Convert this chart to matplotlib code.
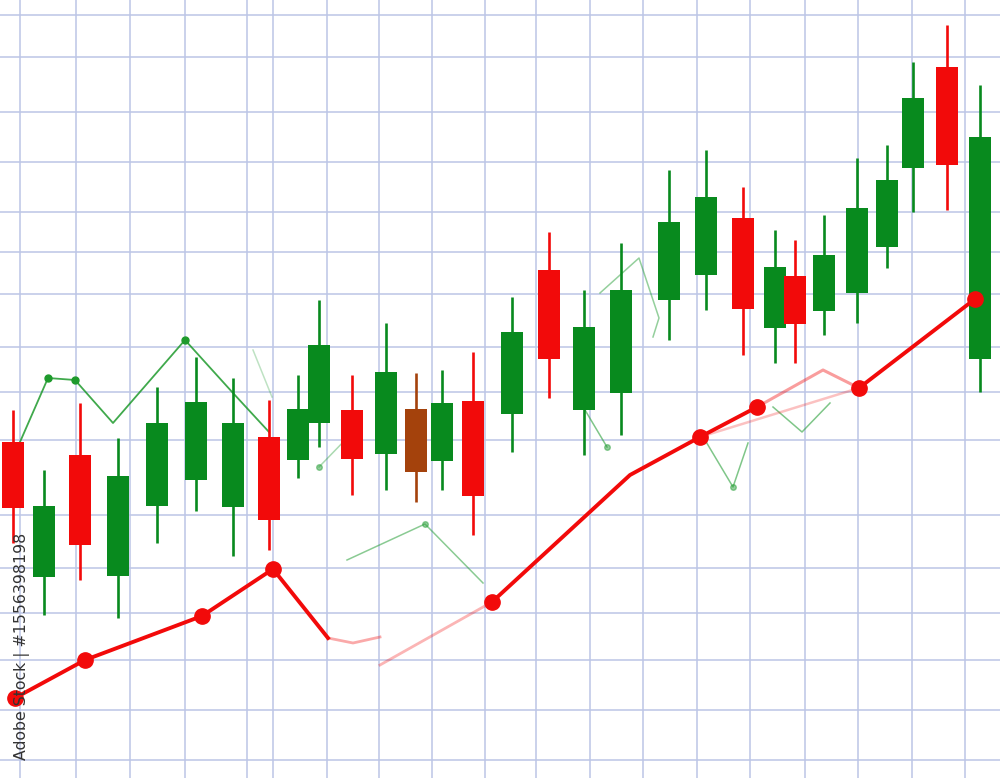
import matplotlib
matplotlib.use("Agg")
from matplotlib import pyplot as plt

# candle data (time, open, high, low, close)
times = [1.3, 4.4, 8.0, 11.8, 15.7, 19.6, 23.3, 26.9, 29.8, 31.9,
         35.2, 38.6, 41.6, 44.2, 47.3, 51.2, 54.9, 58.4, 62.1, 66.9,
         70.6, 74.3, 77.5, 79.5, 82.4, 85.7, 88.7, 91.3, 94.7, 98.0]
opens = [33.6, 20.1, 32.3, 20.2, 27.2, 29.8, 27.1, 34.1, 31.8, 35.5,
         36.8, 32.4, 36.9, 31.7, 37.7, 36.4, 50.8, 36.8, 38.5, 47.8,
         50.3, 56.0, 45.0, 50.2, 46.7, 48.5, 53.1, 61.0, 71.1, 41.9]
highs = [36.8, 30.8, 37.5, 34.0, 39.1, 42.1, 40.0, 37.8, 40.3, 47.8,
         40.3, 45.5, 40.5, 40.8, 42.6, 48.1, 54.6, 48.8, 53.5, 60.8,
         62.8, 59.1, 54.8, 53.8, 56.3, 62.0, 63.3, 71.6, 75.3, 69.3]
lows = [23.5, 16.3, 19.8, 16.0, 23.5, 26.7, 22.2, 22.8, 30.0, 33.1,
        28.3, 28.8, 27.6, 28.8, 24.3, 32.6, 38.0, 32.3, 34.3, 43.8,
        46.8, 42.3, 41.5, 41.5, 44.3, 45.5, 51.0, 56.6, 56.8, 38.6]
closes = [27.0, 27.2, 23.3, 30.2, 35.5, 37.6, 35.5, 25.8, 36.9, 43.3,
          31.9, 40.6, 30.6, 37.5, 28.2, 44.6, 41.9, 45.1, 48.8, 55.6,
          58.1, 46.9, 51.1, 45.4, 52.3, 57.0, 59.8, 68.0, 61.3, 64.1]
odd_candle = 12  # the brownish one

# trend line (red)
trend_x = [1.5, 8.5, 20.2, 27.3, 32.8]
trend_y = [8.0, 11.8, 16.2, 20.9, 14.0]
trend_fade_x = [32.8, 35.3, 38.0]
trend_fade_y = [14.0, 13.5, 14.1]
trend_fade2_x = [38.0, 49.2]
trend_fade2_y = [11.3, 17.6]
trend2_x = [49.2, 63.0, 70.0, 75.7]
trend2_y = [17.6, 30.3, 34.1, 37.1]
trend_fade3_x = [75.7, 82.3, 85.9]
trend_fade3_y = [37.1, 40.8, 39.0]
trend_fade4_x = [70.0, 85.9]
trend_fade4_y = [34.1, 39.0]
trend3_x = [85.9, 97.5]
trend3_y = [39.0, 47.9]
dots_x = [1.5, 8.5, 20.2, 27.3, 49.2, 70.0, 75.7, 85.9, 97.5]
dots_y = [8.0, 11.8, 16.2, 20.9, 17.6, 34.1, 37.1, 39.0, 47.9]

# thin green line pieces
g1_x = [2.0, 4.8, 7.5, 11.3, 18.5, 23.3, 26.9]
g1_y = [33.6, 40.0, 39.8, 35.5, 43.8, 38.5, 34.6]
g1_dots_x = [4.8, 7.5, 18.5]
g1_dots_y = [40.0, 39.8, 43.8]
g_pieces = [
    ([25.3, 27.2], [42.8, 38.1], 0.3),
    ([31.9, 35.0], [31.1, 34.3], 0.4),
    ([34.7, 42.5, 48.3], [21.8, 25.4, 19.5], 0.55),
    ([58.5, 60.7], [36.8, 33.1], 0.6),
    ([60.0, 63.9, 65.9, 65.3], [48.5, 52.0, 46.0, 44.1], 0.5),
    ([70.2, 73.3, 74.8], [34.3, 29.1, 33.5], 0.6),
    ([77.3, 80.2, 83.0], [37.1, 34.6, 37.5], 0.6),
]
g_dots_x = [31.9, 42.5, 60.7, 73.3]
g_dots_y = [31.1, 25.4, 33.1, 29.1]

grid_x = [2.0, 7.6, 13.0, 18.5, 24.7, 27.3, 32.7, 37.9, 43.2, 48.5,
          53.6, 59.0, 64.3, 69.7, 75.0, 80.5, 85.8, 91.2, 96.5]
grid_y = [76.3, 72.1, 66.6, 61.6, 56.6, 52.6, 48.4, 43.1, 38.6, 33.8,
          26.3, 21.0, 16.5, 11.8, 6.8, 1.8]

green = "#088a1e"
red = "#f20a0a"
brown = "#a4420c"

fig = plt.figure(figsize=(10, 7.78), dpi=100)
ax = fig.add_axes([0, 0, 1, 1])
ax.set_xlim(0, 100)
ax.set_ylim(0, 77.8)
ax.set_xticks(grid_x)
ax.set_yticks(grid_y)
ax.tick_params(length=0, labelbottom=False, labelleft=False)
ax.grid(True, color="#bcc5e6", linewidth=1.1)
ax.set_axisbelow(True)
for s in ax.spines.values():
    s.set_visible(False)

# green thin line
ax.plot(g1_x, g1_y, color="#1e9a2c", lw=1.3, alpha=0.85, zorder=2)
ax.plot(g1_dots_x, g1_dots_y, "o", color="#1e9a2c", ms=5, zorder=2)
for px, py, a in g_pieces:
    ax.plot(px, py, color="#2aa03a", lw=1.1, alpha=a, zorder=2)
ax.plot(g_dots_x, g_dots_y, "o", color="#2aa03a", ms=4, alpha=0.5, zorder=2)

# candles
for i in range(len(times)):
    o, c = opens[i], closes[i]
    col = green if c >= o else red
    if i == odd_candle:
        col = brown
    ax.vlines(times[i], lows[i], highs[i], color=col, lw=1.9, zorder=3)
    ax.bar(times[i], abs(c - o), bottom=min(o, c), width=2.2,
           color=col, zorder=3)

# red trend line
ax.plot(trend_x, trend_y, color=red, lw=2.8, zorder=4)
ax.plot(trend_fade_x, trend_fade_y, color=red, lw=2.0, alpha=0.35, zorder=4)
ax.plot(trend_fade2_x, trend_fade2_y, color=red, lw=2.0, alpha=0.3, zorder=4)
ax.plot(trend2_x, trend2_y, color=red, lw=2.8, zorder=4)
ax.plot(trend_fade3_x, trend_fade3_y, color=red, lw=2.2, alpha=0.4, zorder=4)
ax.plot(trend_fade4_x, trend_fade4_y, color=red, lw=1.8, alpha=0.25, zorder=4)
ax.plot(trend3_x, trend3_y, color=red, lw=2.8, zorder=4)
ax.plot(dots_x, dots_y, "o", color=red, ms=11, zorder=5)

ax.text(2.2, 13.2, "Adobe Stock | #1556398198", rotation=90, ha="center",
        va="center", fontsize=11.3, color="#333333", zorder=6)

plt.savefig("out.png", dpi=100)
